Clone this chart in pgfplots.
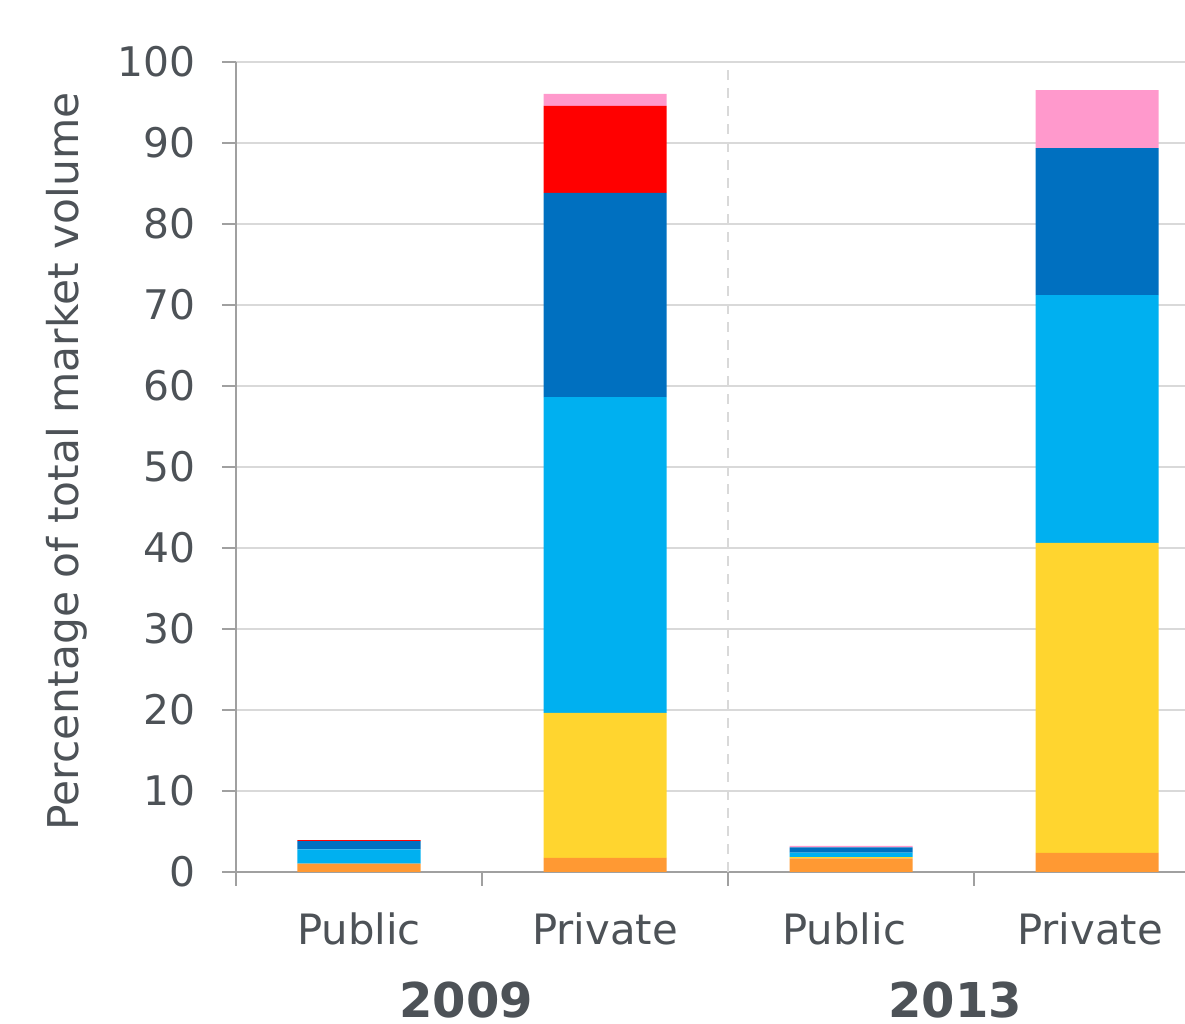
\documentclass[border=0pt]{standalone}
\usepackage{pgfplots}
\pgfplotsset{compat=1.18}
\usepackage{pgfplotstable}
\usepackage{fontspec}
\setmainfont{DejaVu Sans}
\definecolor{corange}{HTML}{FF9933}
\definecolor{cyellow}{HTML}{FFD52F}
\definecolor{clblue}{HTML}{00B0F0}
\definecolor{cdblue}{HTML}{0070C0}
\definecolor{cred}{HTML}{FF0000}
\definecolor{cpink}{HTML}{FF99CC}
\definecolor{ctext}{HTML}{4D5257}
\definecolor{caxis}{HTML}{A0A0A0}
\definecolor{cgrid}{HTML}{D9D9D9}
\pgfplotstableread{
x orange yellow lblue dblue red pink
0 1.02 0 1.78 1.02 0.12 0
1 1.73 17.9 39.0 25.2 10.74 1.48
2 1.69 0.16 0.53 0.67 0 0.16
3 2.35 38.27 30.61 18.15 0 7.16
}\datatab
\begin{document}
\begin{tikzpicture}
\useasboundingbox (-59pt,-38pt) rectangle (237.25pt,218pt);
\begin{axis}[
  scale only axis,
  width=246pt, height=202.5pt,
  xmin=-0.5, xmax=3.5, ymin=0, ymax=100,
  ybar stacked, bar width=30.75pt,
  axis x line*=bottom, axis y line*=left,
  axis line style={caxis, line width=0.5pt},
  tick align=outside,
  tick style={caxis, line width=0.5pt},
  ytick style={draw=caxis, line width=0.5pt},
  major tick length=3.5pt,
  ytick={0,10,...,100},
  ymajorgrids, grid style={cgrid, line width=0.5pt},
  xtick={-0.5,0.5,1.5,2.5,3.5},
  xticklabels={},
  extra x ticks={0,1,1.972,2.972},
  extra x tick labels={Public,Private,Public,Private},
  extra x tick style={major tick length=0pt, grid=none},
  /pgf/number format/assume math mode=true,
  yticklabel style={font=\fontsize{10.2}{12}\selectfont, text=ctext, xshift=-3pt},
  xticklabel style={font=\fontsize{10.45}{12}\selectfont, text=ctext, yshift=-6.75pt},
  ylabel={Percentage of total market volume},
  ylabel style={at={(axis description cs:-0.1717,0.507)}, anchor=center, font=\fontsize{10.6}{12}\selectfont, text=ctext},
  clip=false,
]
\addplot[fill=corange, draw=none] table[x=x, y=orange] {\datatab};
\addplot[fill=cyellow, draw=none] table[x=x, y=yellow] {\datatab};
\addplot[fill=clblue, draw=none] table[x=x, y=lblue] {\datatab};
\addplot[fill=cdblue, draw=none] table[x=x, y=dblue] {\datatab};
\addplot[fill=cred, draw=none] table[x=x, y=red] {\datatab};
\addplot[fill=cpink, draw=none] table[x=x, y=pink] {\datatab};
\draw[cgrid, line width=0.5pt, dash pattern=on 2.5pt off 2pt] (axis cs:1.5,0) -- (axis cs:1.5,100);
\node[font=\bfseries\fontsize{12}{14}\selectfont, text=ctext] at ([yshift=-32pt]axis cs:0.435,0) {2009};
\node[font=\bfseries\fontsize{12}{14}\selectfont, text=ctext] at ([yshift=-32pt]axis cs:2.423,0) {2013};
\end{axis}
\end{tikzpicture}
\end{document}
